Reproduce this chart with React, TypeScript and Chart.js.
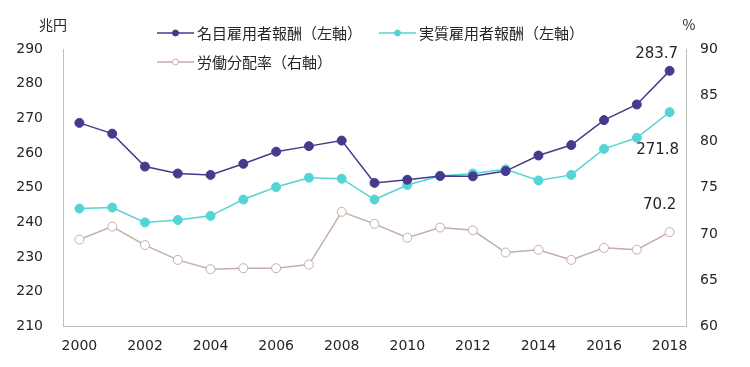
import React, { useEffect, useRef } from "react";
import { Chart, registerables } from "chart.js";

Chart.register(...registerables);

const years = ["2000", "2001", "2002", "2003", "2004", "2005", "2006", "2007", "2008", "2009", "2010", "2011", "2012", "2013", "2014", "2015", "2016", "2017", "2018"];
const nominal = [268.7, 265.6, 256.1, 254.1, 253.7, 256.9, 260.4, 262.0, 263.6, 251.4, 252.3, 253.4, 253.3, 254.8, 259.3, 262.3, 269.5, 274.0, 283.7];
const real = [244.0, 244.3, 240.0, 240.7, 241.9, 246.6, 250.2, 252.9, 252.6, 246.6, 250.8, 253.4, 254.1, 255.3, 252.1, 253.7, 261.2, 264.4, 271.8];
const laborShare = [69.4, 70.8, 68.8, 67.2, 66.2, 66.3, 66.3, 66.7, 72.4, 71.1, 69.6, 70.7, 70.4, 68.0, 68.3, 67.2, 68.5, 68.3, 70.2];
const seriesNames = ["名目雇用者報酬（左軸）", "実質雇用者報酬（左軸）", "労働分配率（右軸）"];
const leftUnit = "兆円";
const rightUnit = "%";

const NAVY = "#433C8C";
const CYAN = "#55D4D6";
const TAUPE = "#C4AEA6";
const TEXT = "#262626";
const AXIS = "#BFBFBF";
const LATIN = "'DejaVu Sans', 'Noto Sans CJK JP', sans-serif";
const CJK = "'Noto Sans CJK JP', 'DejaVu Sans', sans-serif";

const overlay = {
  id: "overlay",
  afterDraw(chart: any) {
    const ctx = chart.ctx as CanvasRenderingContext2D;
    const area = chart.chartArea;
    ctx.save();
    // axis units
    ctx.fillStyle = TEXT;
    ctx.font = `14px ${CJK}`;
    ctx.textAlign = "center";
    ctx.textBaseline = "middle";
    ctx.fillText(leftUnit, area.left - 10, area.top - 24);
    ctx.fillText(rightUnit, area.right + 3, area.top - 24);

    // legend
    const items = [
      { x: area.left + 94, y: area.top - 16, color: NAVY, fill: NAVY, text: seriesNames[0] },
      { x: area.left + 316, y: area.top - 16, color: CYAN, fill: CYAN, text: seriesNames[1] },
      { x: area.left + 94, y: area.top + 13, color: TAUPE, fill: "#FFFFFF", text: seriesNames[2] },
    ];
    for (const it of items) {
      ctx.strokeStyle = it.color;
      ctx.lineWidth = 1.5;
      ctx.beginPath();
      ctx.moveTo(it.x, it.y);
      ctx.lineTo(it.x + 37, it.y);
      ctx.stroke();
      ctx.beginPath();
      ctx.arc(it.x + 18.5, it.y, 3, 0, Math.PI * 2);
      ctx.fillStyle = it.fill;
      ctx.fill();
      ctx.lineWidth = 1;
      ctx.stroke();
      ctx.fillStyle = TEXT;
      ctx.font = `15px ${CJK}`;
      ctx.textAlign = "left";
      ctx.textBaseline = "middle";
      ctx.fillText(it.text, it.x + 40, it.y);
    }

    // end labels
    ctx.font = `15px ${LATIN}`;
    ctx.fillStyle = TEXT;
    ctx.textAlign = "center";
    ctx.textBaseline = "middle";
    const last = years.length - 1;
    const p0 = chart.getDatasetMeta(0).data[last];
    const p1 = chart.getDatasetMeta(1).data[last];
    const p2 = chart.getDatasetMeta(2).data[last];
    ctx.fillText(nominal[last].toFixed(1), p0.x - 13, p0.y - 17);
    ctx.fillText(real[last].toFixed(1), p1.x - 12, p1.y + 38);
    ctx.fillText(laborShare[last].toFixed(1), p2.x - 10, p2.y - 27);
    ctx.restore();
  },
};

export default function App() {
  const ref = useRef<HTMLCanvasElement | null>(null);
  useEffect(() => {
    if (!ref.current) return;
    const chart = new Chart(ref.current, {
      type: "line",
      data: {
        labels: years,
        datasets: [
          {
            label: seriesNames[0],
            data: nominal,
            yAxisID: "y",
            borderColor: NAVY,
            backgroundColor: NAVY,
            borderWidth: 1.5,
            pointRadius: 4.5,
            pointBorderWidth: 1,
            pointBackgroundColor: NAVY,
            pointBorderColor: NAVY,
            tension: 0,
          },
          {
            label: seriesNames[1],
            data: real,
            yAxisID: "y",
            borderColor: CYAN,
            backgroundColor: CYAN,
            borderWidth: 1.5,
            pointRadius: 4.5,
            pointBorderWidth: 1,
            pointBackgroundColor: CYAN,
            pointBorderColor: CYAN,
            tension: 0,
          },
          {
            label: seriesNames[2],
            data: laborShare,
            yAxisID: "y1",
            borderColor: TAUPE,
            backgroundColor: "#FFFFFF",
            borderWidth: 1.5,
            pointRadius: 4.5,
            pointBorderWidth: 1,
            pointBackgroundColor: "#FFFFFF",
            pointBorderColor: TAUPE,
            tension: 0,
          },
        ],
      },
      options: {
        responsive: false,
        animation: false,
        layout: { padding: { left: 8, right: 24, top: 41, bottom: 4 } },
        plugins: {
          legend: { display: false },
          tooltip: { enabled: false },
        },
        scales: {
          x: {
            type: "category",
            offset: true,
            grid: { display: false, drawTicks: false },
            border: { display: true, color: AXIS, width: 1 },
            afterFit: (s: any) => { s.height = 28.5; },
            ticks: {
              autoSkip: false,
              maxRotation: 0,
              padding: 11,
              color: TEXT,
              font: { family: LATIN, size: 14 },
              callback: (_v: any, i: number) => (i % 2 === 0 ? years[i] : ""),
            },
          },
          y: {
            position: "left",
            min: 210,
            max: 290,
            grid: { display: false, drawTicks: false },
            border: { display: true, color: AXIS, width: 1 },
            afterFit: (s: any) => { s.width = 47; },
            ticks: {
              stepSize: 10,
              padding: 20,
              color: TEXT,
              font: { family: LATIN, size: 14 },
            },
          },
          y1: {
            position: "right",
            min: 60,
            max: 90,
            grid: { display: false, drawTicks: false },
            border: { display: true, color: AXIS, width: 1 },
            afterFit: (s: any) => { s.width = 32; },
            ticks: {
              stepSize: 5,
              padding: 14,
              color: TEXT,
              font: { family: LATIN, size: 14 },
            },
          },
        },
      },
      plugins: [overlay],
    });
    return () => chart.destroy();
  }, []);
  return <canvas ref={ref} width={734} height={351} />;
}
